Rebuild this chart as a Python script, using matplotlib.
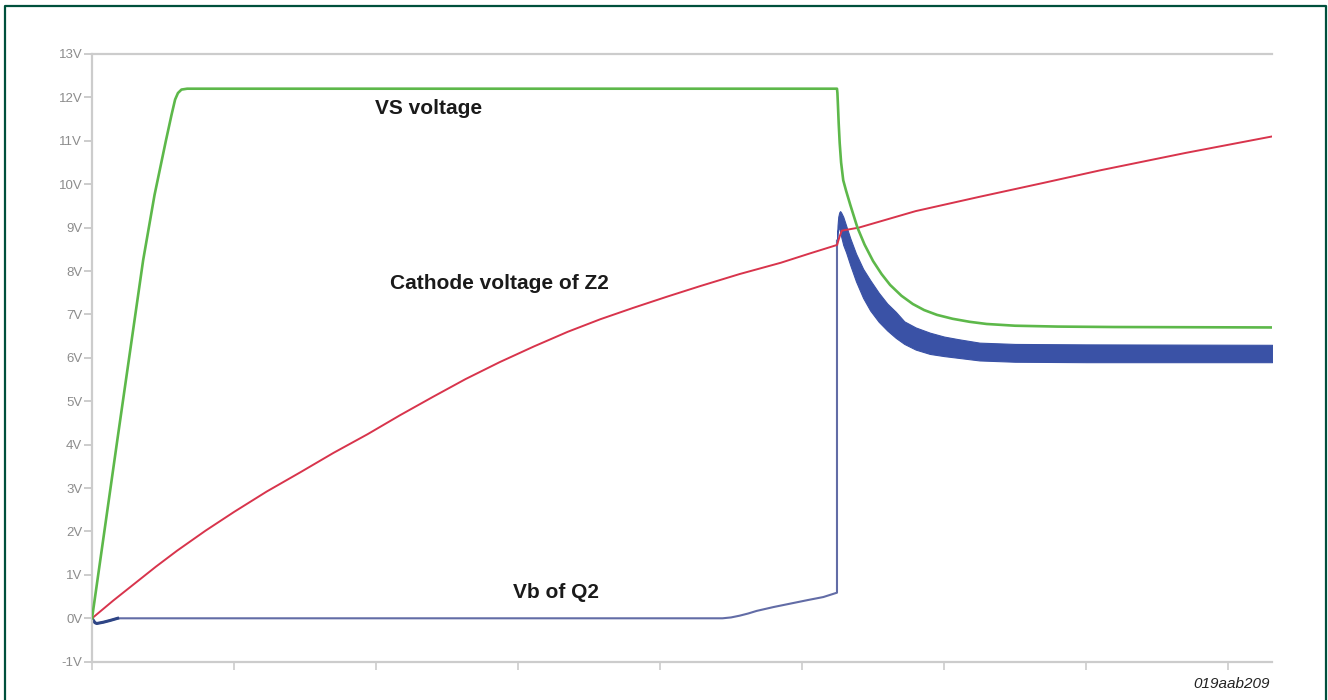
import matplotlib
matplotlib.use("Agg")
import matplotlib.pyplot as plt
from matplotlib.lines import Line2D

# time axis in divisions, voltages in V
vs_t = [0, 0.18, 0.36, 0.44, 0.52, 0.56, 0.585, 0.605, 0.63, 0.67,
        5.246, 5.249, 5.253, 5.258, 5.265, 5.275, 5.29, 5.31, 5.34, 5.39,
        5.44, 5.5, 5.56, 5.62, 5.7, 5.78, 5.86, 5.95, 6.06, 6.18, 6.3,
        6.5, 6.8, 7.2, 8.31]
vs_v = [0, 4.15, 8.25, 9.75, 11.0, 11.6, 11.95, 12.1, 12.18, 12.2,
        12.2, 12.1, 11.8, 11.4, 10.95, 10.5, 10.09, 9.85, 9.52, 9.0,
        8.61, 8.23, 7.93, 7.68, 7.43, 7.24, 7.1, 6.99, 6.9, 6.83, 6.78,
        6.74, 6.72, 6.71, 6.70]

cz_t = [0, 0.15, 0.3, 0.45, 0.6, 0.8, 1.0, 1.23, 1.465, 1.7, 1.94, 2.17,
        2.4, 2.63, 2.87, 3.11, 3.35, 3.58, 3.81, 4.05, 4.28, 4.56, 4.85,
        5.05, 5.246, 5.265, 5.28, 5.4, 5.8, 6.25, 6.7, 7.1, 7.7, 8.31]
cz_v = [0, 0.41, 0.8, 1.19, 1.56, 2.02, 2.45, 2.92, 3.36, 3.81, 4.24, 4.68,
        5.1, 5.51, 5.9, 6.26, 6.6, 6.89, 7.15, 7.41, 7.65, 7.93, 8.19,
        8.4, 8.6, 8.8, 8.93, 9.0, 9.38, 9.71, 10.03, 10.32, 10.72, 11.1]

vb_t = [0, 0.02, 0.033, 0.08, 0.127, 0.18, 4.44, 4.5, 4.56, 4.62, 4.68,
        4.8, 4.92, 5.04, 5.15, 5.246, 5.246]
vb_v = [0, -0.1, -0.12, -0.09, -0.05, 0, 0, 0.02, 0.06, 0.11, 0.17,
        0.26, 0.34, 0.42, 0.49, 0.59, 8.7]

# oscillating part of Vb, drawn as its envelope
band_t = [5.246, 5.25, 5.255, 5.262, 5.268, 5.275, 5.29, 5.31, 5.34, 5.38,
          5.43, 5.48, 5.54, 5.6, 5.66, 5.72, 5.8, 5.9, 6.0, 6.1, 6.25,
          6.5, 7.0, 8.31]
band_hi = [8.7, 9.05, 9.25, 9.35, 9.38, 9.35, 9.25, 9.05, 8.75, 8.4,
           8.05, 7.79, 7.5, 7.25, 7.06, 6.84, 6.7, 6.58, 6.49, 6.43, 6.35,
           6.32, 6.31, 6.30]
band_lo = [8.6, 8.9, 9.0, 8.97, 8.9, 8.8, 8.6, 8.43, 8.13, 7.76,
           7.38, 7.09, 6.83, 6.63, 6.46, 6.32, 6.19, 6.09, 6.04, 6.0, 5.94,
           5.91, 5.90, 5.90]

y_ticks = list(range(-1, 14))
y_labels = [f"{v}V" for v in y_ticks]
x_ticks = list(range(0, 9))

plt.rcParams["font.family"] = ["Liberation Sans", "DejaVu Sans"]

fig = plt.figure(figsize=(13.28, 7), dpi=100)
ax = fig.add_axes([0.0693, 0.0547, 0.8886, 0.8682])

ax.plot(cz_t, cz_v, color="#d8344c", lw=1.4, zorder=3)
ax.fill_between(band_t, band_lo, band_hi, color="#3a52a6", lw=0.8,
                edgecolor="#3a52a6", zorder=2)
ax.plot(vb_t, vb_v, color="#626ca6", lw=1.5, zorder=2)
ax.plot(vb_t[:6], vb_v[:6], color="#2e4585", lw=2.2, zorder=2)
ax.plot(vs_t, vs_v, color="#5db84a", lw=1.9, zorder=4)

ax.set_xlim(0, 8.31)
ax.set_ylim(-1, 13)
ax.set_yticks(y_ticks)
ax.set_yticklabels(y_labels)
ax.set_xticks(x_ticks)
ax.set_xticklabels([])

for s in ["left", "bottom", "top"]:
    ax.spines[s].set_color("#cccccc")
    ax.spines[s].set_linewidth(1.6)
ax.spines["right"].set_visible(False)
ax.tick_params(axis="y", colors="#cccccc", length=6, width=1.4,
               labelcolor="#8c8c8c", labelsize=9.5, pad=1)
ax.tick_params(axis="x", colors="#cccccc", length=6, width=1.2)

txt = dict(fontsize=15, fontweight="bold", color="#1a1a1a",
           ha="center", va="center")
ax.text(2.37, 11.75, "VS voltage", **txt)
ax.text(2.87, 7.72, "Cathode voltage of Z2", **txt)
ax.text(3.27, 0.59, "Vb of Q2", **txt)

fig.text(0.9565, 0.023, "019aab209", fontsize=11, style="italic",
         color="#222222", ha="right", va="center")

# frame round the figure, open at the bottom
frame_x = [5 / 1328, 5 / 1328, 1326 / 1328, 1326 / 1328]
frame_y = [0, 1 - 6 / 700, 1 - 6 / 700, 0]
fig.add_artist(Line2D(frame_x, frame_y, color="#00503c", lw=1.6,
                      transform=fig.transFigure))

fig.savefig("out.png", dpi=100)
